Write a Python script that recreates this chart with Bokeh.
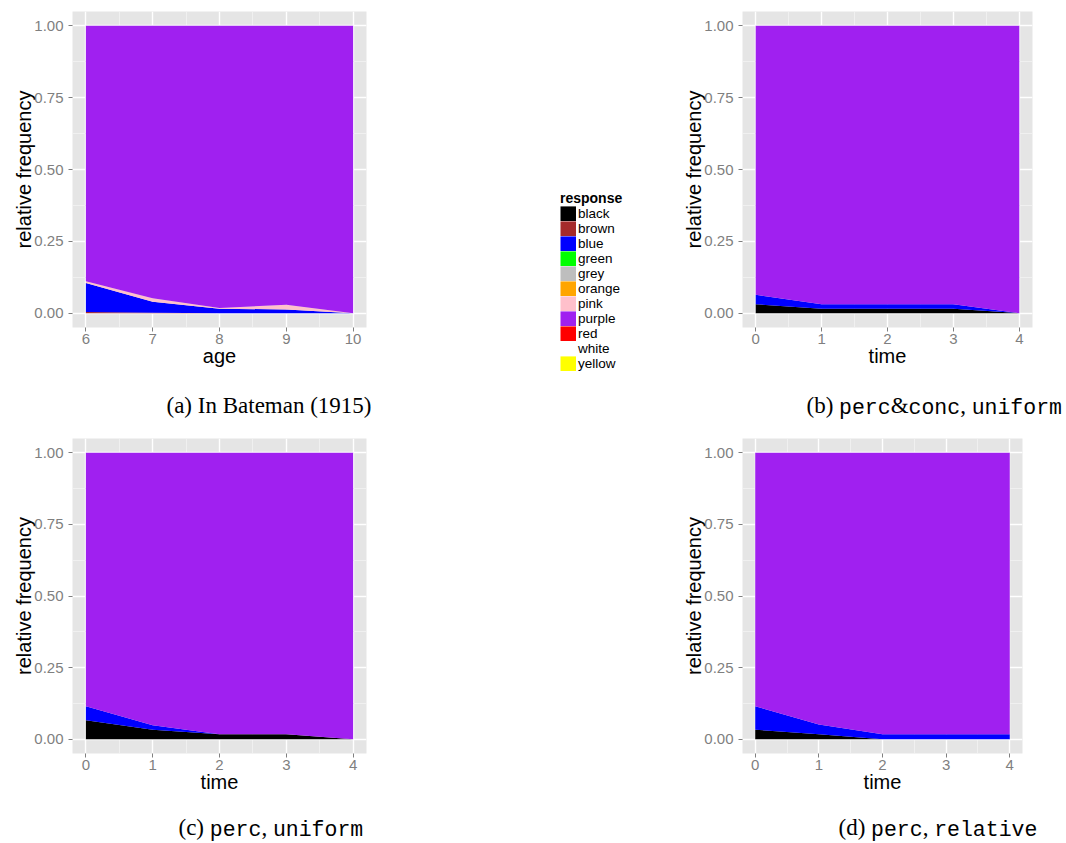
from bokeh.plotting import figure
from bokeh.layouts import row, column
from bokeh.models import (ColumnDataSource, FixedTicker, NumeralTickFormatter, Label,
                          Legend, LegendItem, Spacer, Range1d)
from bokeh.embed import file_html
from bokeh.resources import INLINE

# ---------------- data ----------------
responses = ["black", "brown", "blue", "green", "grey", "orange",
             "pink", "purple", "red", "white", "yellow"]
colors = ["#000000", "#A52A2A", "#0000FF", "#00FF00", "#BEBEBE", "#FFA500",
          "#FFC0CB", "#A020F0", "#FF0000", "#FFFFFF", "#FFFF00"]

age = [6, 7, 8, 9, 10]
time = [0, 1, 2, 3, 4]
y_ticks = [0.0, 0.25, 0.5, 0.75, 1.0]

# (a) In Bateman (1915)
a_brown = [0.004, 0.001, 0.0, 0.0, 0.0]
a_blue = [0.101, 0.039, 0.015, 0.013, 0.0]
a_pink = [0.006, 0.012, 0.003, 0.016, 0.0]
a_purple = [0.889, 0.948, 0.982, 0.971, 1.0]

# (b) perc&conc, uniform
b_black = [0.031, 0.015, 0.015, 0.015, 0.0]
b_blue = [0.033, 0.016, 0.016, 0.016, 0.0]
b_purple = [0.936, 0.969, 0.969, 0.969, 1.0]

# (c) perc, uniform
c_black = [0.066, 0.033, 0.017, 0.017, 0.0]
c_blue = [0.049, 0.016, 0.0, 0.0, 0.0]
c_purple = [0.885, 0.951, 0.983, 0.983, 1.0]

# (d) perc, relative
d_black = [0.033, 0.017, 0.0, 0.0, 0.0]
d_blue = [0.082, 0.034, 0.017, 0.017, 0.017]
d_purple = [0.885, 0.949, 0.983, 0.983, 0.983]

SANS = "Liberation Sans"
SERIF = "Liberation Serif"
MONO = "Liberation Mono"
SERIF_PX = 23
MONO_PX = 21.5
serif_w = {'(': .333, ')': .333, 'a': .444, 'b': .5, 'c': .444, 'd': .5, 'I': .333,
           'n': .5, 'B': .667, 't': .278, 'e': .444, 'm': .778, '1': .5, '9': .5,
           '5': .5, ' ': .25, '&': .778, ',': .25}
# height of the middle of the text box above the baseline (em)
MID_SERIF = (0.891 - 0.216) / 2
MID_MONO = (0.833 - 0.300) / 2


def text_width(txt, kind):
    if kind == "mono":
        return len(txt) * 0.6 * MONO_PX
    return sum(serif_w.get(ch, 0.5) for ch in txt) * SERIF_PX


def blank(width, height, left=0, top=0):
    p = figure(width=width, height=height, output_backend="svg", toolbar_location=None,
               title=None, x_axis_location=None, y_axis_location=None,
               x_range=Range1d(0, 1), y_range=Range1d(0, 1),
               min_border=0, min_border_left=left, min_border_right=0,
               min_border_top=top, min_border_bottom=0)
    p.grid.visible = False
    p.outline_line_color = None
    p.background_fill_color = "white"
    p.border_fill_color = "white"
    return p


def caption(width, height, pieces, x0, baseline):
    p = blank(width, height)
    x = x0
    for txt, kind in pieces:
        shown = txt.strip()
        if shown:
            mono = kind == "mono"
            size = MONO_PX if mono else SERIF_PX
            mid = (MID_MONO if mono else MID_SERIF) * size
            p.add_layout(Label(x=x, y=baseline + mid, x_units="screen", y_units="screen",
                               text=shown, text_font=MONO if mono else SERIF,
                               text_font_size=f"{size}px",
                               text_color="black", text_align="left",
                               text_baseline="middle"))
        x += text_width(txt, kind)
    return p


def panel(xs, series, xlabel, width, height, bl, br, bt, bb):
    pad = 0.05 * (xs[-1] - xs[0])
    p = figure(width=width, height=height, output_backend="svg", toolbar_location=None,
               title=None, x_range=Range1d(xs[0] - pad, xs[-1] + pad),
               y_range=Range1d(-0.05, 1.05),
               min_border_left=bl, min_border_right=br,
               min_border_top=bt, min_border_bottom=bb)
    data = {"x": xs}
    names, cols = [], []
    for name, vals in series:
        data[name] = vals
        names.append(name)
        cols.append(colors[responses.index(name)])
    src = ColumnDataSource(data)
    p.varea_stack(stackers=names, x="x", color=cols, source=src)

    p.background_fill_color = "#E5E5E5"
    p.border_fill_color = "white"
    p.outline_line_color = None

    p.xaxis.ticker = FixedTicker(ticks=xs,
                                 minor_ticks=[(u + v) / 2 for u, v in zip(xs[:-1], xs[1:])])
    p.yaxis.ticker = FixedTicker(ticks=y_ticks,
                                 minor_ticks=[(u + v) / 2 for u, v in zip(y_ticks[:-1], y_ticks[1:])])
    p.yaxis.formatter = NumeralTickFormatter(format="0.00")
    for ax in (p.xaxis[0], p.yaxis[0]):
        ax.axis_line_color = None
        ax.major_tick_line_color = "#7F7F7F"
        ax.major_tick_out = 4
        ax.major_tick_in = 0
        ax.minor_tick_line_color = None
        ax.major_label_text_color = "#7F7F7F"
        ax.major_label_text_font = SANS
        ax.major_label_text_font_size = "15px"
        ax.axis_label_text_font = SANS
        ax.axis_label_text_font_size = "20px"
        ax.axis_label_text_font_style = "normal"
        ax.axis_label_text_color = "black"
    p.xaxis.axis_label = xlabel
    p.xaxis.major_label_standoff = 2
    p.xaxis.axis_label_standoff = -2
    p.yaxis.axis_label = "relative frequency"
    p.yaxis.major_label_standoff = 5
    p.yaxis.axis_label_standoff = -4

    p.grid.grid_line_color = "white"
    p.grid.grid_line_width = 1.4
    p.grid.minor_grid_line_color = "#F2F2F2"
    p.grid.minor_grid_line_width = 0.8
    return p


TOP_H = 377      # panel rows
BOT_H = 383
CAP_TOP_H = 43   # caption rows
CAP_BOT_H = 39
W_LEFT, W_MID, W_RIGHT = 400, 280, 384

fa = panel(age, [("brown", a_brown), ("blue", a_blue), ("pink", a_pink), ("purple", a_purple)],
           "age", W_LEFT, TOP_H, 72, 34, 11, TOP_H - 11 - 316)
fb = panel(time, [("black", b_black), ("blue", b_blue), ("purple", b_purple)],
           "time", W_RIGHT, TOP_H, 56, 32, 11, TOP_H - 11 - 316)
fc = panel(time, [("black", c_black), ("blue", c_blue), ("purple", c_purple)],
           "time", W_LEFT, BOT_H, 72, 34, 18, BOT_H - 18 - 315)
fd = panel(time, [("black", d_black), ("blue", d_blue), ("purple", d_purple)],
           "time", W_RIGHT, BOT_H, 47, 42, 18, BOT_H - 18 - 315)

cap_a = caption(W_LEFT, CAP_TOP_H, [("(a) In Bateman (1915)", "serif")], 166, 7)
cap_b = caption(W_RIGHT, CAP_TOP_H, [("(b) ", "serif"), ("perc", "mono"), ("&", "serif"),
                                      ("conc", "mono"), (", ", "serif"), ("uniform", "mono")], 126, 7)
cap_c = caption(W_LEFT, CAP_BOT_H, [("(c) ", "serif"), ("perc", "mono"), (", ", "serif"),
                                     ("uniform", "mono")], 178, 7)
cap_d = caption(W_RIGHT, CAP_BOT_H, [("(d) ", "serif"), ("perc", "mono"), (", ", "serif"),
                                      ("relative", "mono")], 158, 7)

# legend panel (key swatches drawn by thick legend-only line renderers)
leg = blank(W_MID, TOP_H, left=160, top=190)
items = []
for name, col in zip(responses, colors):
    r = leg.line(x=[-10, -9], y=[-10, -10], line_color=col, line_width=15.2, line_cap="butt")
    items.append(LegendItem(label=name, renderers=[r]))
legend = Legend(items=items, location="top_left", title="response",
                title_text_font=SANS, title_text_font_size="14px", title_text_font_style="bold",
                title_text_color="black", title_standoff=0,
                label_text_font=SANS, label_text_font_size="13.5px", label_text_line_height=1.0,
                label_text_color="black",
                label_height=15, glyph_height=15, glyph_width=16, label_standoff=2,
                spacing=0, padding=0, margin=0,
                border_line_color=None, background_fill_alpha=0)
leg.add_layout(legend)

layout = column(
    row(column(fa), column(leg), column(fb)),
    row(cap_a, Spacer(width=W_MID, height=CAP_TOP_H), cap_b),
    row(fc, Spacer(width=W_MID, height=BOT_H), fd),
    row(cap_c, Spacer(width=W_MID, height=CAP_BOT_H), cap_d),
)

open("out.html", "w").write(file_html(layout, INLINE))
